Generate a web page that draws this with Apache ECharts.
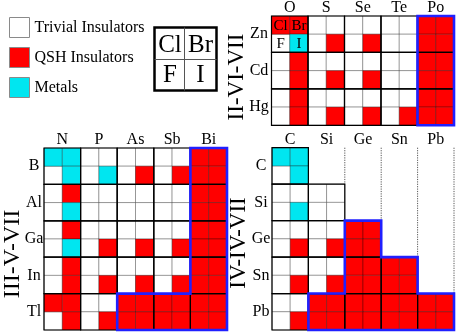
<!DOCTYPE html>
<html><head><meta charset="utf-8">
<script src="https://cdn.jsdelivr.net/npm/echarts@6/dist/echarts.min.js"></script>
<style>html,body{margin:0;padding:0;background:#fff}#c{width:457px;height:335px}</style>
</head><body><div id="c"></div>
<script>
// Codes: T = trivial insulator, Q = QSH insulator, M = metal, '.' = no compound
const colsII = ['O', 'S', 'Se', 'Te', 'Po'];
const rowsII = ['Zn', 'Cd', 'Hg'];
const cellsII = [
  'QQTTTTTTQQ',
  'TMTQTQTTQQ',
  'TQTTTTTTQQ',
  'TQTQTQTTQQ',
  'TQTTTTTTQQ',
  'TQTQTQTQQQ'
];
const colsIII = ['N', 'P', 'As', 'Sb', 'Bi'];
const rowsIII = ['B', 'Al', 'Ga', 'In', 'Tl'];
const cellsIII = [
  'MMTTTTTTQQ',
  'TMTMTQTQQQ',
  'TQTTTTTTQQ',
  'TMTTTTTTQQ',
  'TQTTTTTTQQ',
  'TMTQTQTQQQ',
  'TQTTTTTTQQ',
  'TQTQTQTQQQ',
  'QQTTQQQQQQ',
  'TQTQQQQQQQ'
];
const colsIV = ['C', 'Si', 'Ge', 'Sn', 'Pb'];
const rowsIV = ['C', 'Si', 'Ge', 'Sn', 'Pb'];
const cellsIV = [
  'MM........',
  'TM........',
  'TTTT......',
  'TMTT......',
  'TTTTQQ....',
  'TQTQQQ....',
  'TTTTQQQQ..',
  'TQTQQQQQ..',
  'TTQQQQQQQQ',
  'TQQQQQQQQQ'
];
const halogens = ['Cl', 'Br', 'F', 'I'];
// highlighted regions (cell-corner vertices in grid units)
const outlineII = [[8, 0], [10, 0], [10, 6], [8, 6]];
const outlineIII = [[8, 0], [10, 0], [10, 10], [4, 10], [4, 8], [8, 8]];
const outlineIV = [[4, 4], [6, 4], [6, 6], [8, 6], [8, 8], [10, 8], [10, 10], [2, 10], [2, 8], [4, 8]];
const classes = [
  { code: 'T', name: 'Trivial Insulators', color: '#ffffff' },
  { code: 'Q', name: 'QSH Insulators', color: '#ff0000' },
  { code: 'M', name: 'Metals', color: '#00e6f0' }
];

const FONT = "'Liberation Serif', 'Times New Roman', serif";
const panels = [
  { cells: cellsII, cols: colsII, rows: rowsII, outline: outlineII, labels: true,
    grid: { left: 271.5, top: 15.3, width: 183, height: 110 }, yMargin: 12.5, dotted: false },
  { cells: cellsIII, cols: colsIII, rows: rowsIII, outline: outlineIII, labels: false,
    grid: { left: 44, top: 148, width: 183, height: 182 }, yMargin: 10, dotted: false },
  { cells: cellsIV, cols: colsIV, rows: rowsIV, outline: outlineIV, labels: false,
    grid: { left: 272, top: 147.7, width: 182.5, height: 182.3 }, yMargin: 11, dotted: true }
];

function rectOf(api, x0, y0, x1, y1) {
  const a = api.coord([x0, y0]), b = api.coord([x1, y1]);
  return { x: Math.min(a[0], b[0]), y: Math.min(a[1], b[1]),
           width: Math.abs(b[0] - a[0]), height: Math.abs(b[1] - a[1]) };
}

const grids = [], xAxes = [], yAxes = [], series = [];
panels.forEach((p, gi) => {
  grids.push(Object.assign({ containLabel: false }, p.grid));
  xAxes.push({
    type: 'value', gridIndex: gi, min: 0, max: 10, interval: 1, position: 'top',
    axisLine: { show: false }, axisTick: { show: false }, splitLine: { show: false },
    axisLabel: { margin: 0, fontSize: 16, fontFamily: FONT, color: '#000',
      formatter: v => (v % 2 === 1 ? p.cols[(v - 1) / 2] : '') }
  });
  yAxes.push({
    type: 'value', gridIndex: gi, min: 0, max: p.cells.length, interval: 1, inverse: true,
    axisLine: { show: false }, axisTick: { show: false }, splitLine: { show: false },
    axisLabel: { margin: p.yMargin, align: 'center', fontSize: 16, fontFamily: FONT, color: '#000',
      formatter: v => (v % 2 === 1 ? p.rows[(v - 1) / 2] : '') }
  });
  // cells per class
  classes.forEach(cls => {
    const data = [];
    p.cells.forEach((row, y) => {
      row.split('').forEach((c, x) => { if (c === cls.code) data.push([x, y]); });
    });
    series.push({
      type: 'custom', name: cls.name, xAxisIndex: gi, yAxisIndex: gi, clip: false, z: 2,
      itemStyle: { color: cls.color }, encode: { x: 0, y: 1 }, data: data,
      renderItem: (params, api) => {
        const x = api.value(0), y = api.value(1);
        const r = rectOf(api, x, y, x + 1, y + 1);
        const children = [{ type: 'rect', shape: r,
          style: { fill: cls.color, stroke: 'rgba(0,0,0,0.3)', lineWidth: 1 } }];
        if (p.labels && x < 2 && y < 2) {
          children.push({ type: 'text', x: r.x + r.width / 2, y: r.y + r.height / 2 + 0.5,
            style: { text: halogens[y * 2 + x], fontSize: 15, fontFamily: FONT, fill: '#000',
              align: 'center', verticalAlign: 'middle' } });
        }
        return { type: 'group', children: children };
      }
    });
  });
  // 2x2 element groups
  const groups = [];
  for (let gy = 0; gy < p.cells.length / 2; gy++) {
    for (let gx = 0; gx < 5; gx++) {
      if (p.cells[gy * 2][gx * 2] !== '.') groups.push([gx * 2, gy * 2]);
    }
  }
  series.push({
    type: 'custom', xAxisIndex: gi, yAxisIndex: gi, clip: false, z: 3, silent: true,
    encode: { x: 0, y: 1 }, data: groups,
    renderItem: (params, api) => {
      const x = api.value(0), y = api.value(1);
      return { type: 'rect', shape: rectOf(api, x, y, x + 2, y + 2),
        style: { fill: null, stroke: '#000', lineWidth: 1.2 } };
    }
  });
  // dotted guides above the triangular panel
  if (p.dotted) {
    const guides = [];
    for (let gy = 1; gy < p.cells.length / 2; gy++) guides.push([2 * (gy + 1), 0, 2 * gy]);
    series.push({
      type: 'custom', xAxisIndex: gi, yAxisIndex: gi, clip: false, z: 1, silent: true,
      encode: { x: 0, y: 1 }, data: guides,
      renderItem: (params, api) => {
        const x = api.value(0), y1 = api.value(2);
        const a = api.coord([x, 0]), b = api.coord([x, y1]);
        return { type: 'line', shape: { x1: a[0], y1: a[1], x2: b[0], y2: b[1] },
          style: { stroke: '#555', lineWidth: 1, lineDash: [1.2, 1.2] } };
      }
    });
  }
  // blue outline of highlighted region
  series.push({
    type: 'custom', xAxisIndex: gi, yAxisIndex: gi, clip: false, z: 4, silent: true,
    encode: { x: 0, y: 1 }, data: [p.outline[0]],
    renderItem: (params, api) => ({
      type: 'polygon', shape: { points: p.outline.map(pt => api.coord(pt)) },
      style: { fill: null, stroke: '#2020ff', lineWidth: 2.6, lineJoin: 'miter' }
    })
  });
});

const chart = echarts.init(document.getElementById('c'), null, { renderer: 'canvas' });
chart.setOption({
  animation: false,
  backgroundColor: '#fff',
  grid: grids, xAxis: xAxes, yAxis: yAxes, series: series,
  legend: {
    orient: 'vertical', left: 9, top: 17, padding: 0, itemWidth: 20, itemHeight: 20, itemGap: 9,
    selectedMode: false, icon: 'rect',
    textStyle: { fontSize: 16, fontFamily: FONT, color: '#000' },
    data: classes.map(c => ({ name: c.name, icon: 'rect',
      textStyle: { fontSize: 16, fontFamily: FONT, color: '#000' },
      itemStyle: { color: c.color, borderColor: '#8a8a8a', borderWidth: 1 } }))
  },
  graphic: [
    { type: 'group', left: 152, top: 25, children: [
      { type: 'rect', shape: { x: 0, y: 0, width: 62, height: 63 },
        style: { fill: '#fff', stroke: '#000', lineWidth: 2.5 } },
      { type: 'line', shape: { x1: 30, y1: 0, x2: 30, y2: 63 }, style: { stroke: '#555', lineWidth: 1 } },
      { type: 'line', shape: { x1: 0, y1: 32, x2: 62, y2: 32 }, style: { stroke: '#555', lineWidth: 1 } },
      { type: 'text', x: 15.5, y: 17.5, style: { text: halogens[0], fontSize: 25, fontFamily: FONT, fill: '#000', align: 'center', verticalAlign: 'middle' } },
      { type: 'text', x: 46, y: 17.5, style: { text: halogens[1], fontSize: 25, fontFamily: FONT, fill: '#000', align: 'center', verticalAlign: 'middle' } },
      { type: 'text', x: 15.5, y: 48, style: { text: halogens[2], fontSize: 25, fontFamily: FONT, fill: '#000', align: 'center', verticalAlign: 'middle' } },
      { type: 'text', x: 46, y: 48, style: { text: halogens[3], fontSize: 25, fontFamily: FONT, fill: '#000', align: 'center', verticalAlign: 'middle' } }
    ]},
    { type: 'text', x: 237, y: 77, rotation: Math.PI / 2,
      style: { text: 'II-VI-VII', fontSize: 23, fontFamily: FONT, fill: '#000', align: 'center', verticalAlign: 'middle' } },
    { type: 'text', x: 13, y: 254, rotation: Math.PI / 2,
      style: { text: 'III-V-VII', fontSize: 24, fontFamily: FONT, fill: '#000', align: 'center', verticalAlign: 'middle' } },
    { type: 'text', x: 239, y: 243, rotation: Math.PI / 2,
      style: { text: 'IV-IV-VII', fontSize: 23, fontFamily: FONT, fill: '#000', align: 'center', verticalAlign: 'middle' } }
  ]
});
</script>
</body></html>
